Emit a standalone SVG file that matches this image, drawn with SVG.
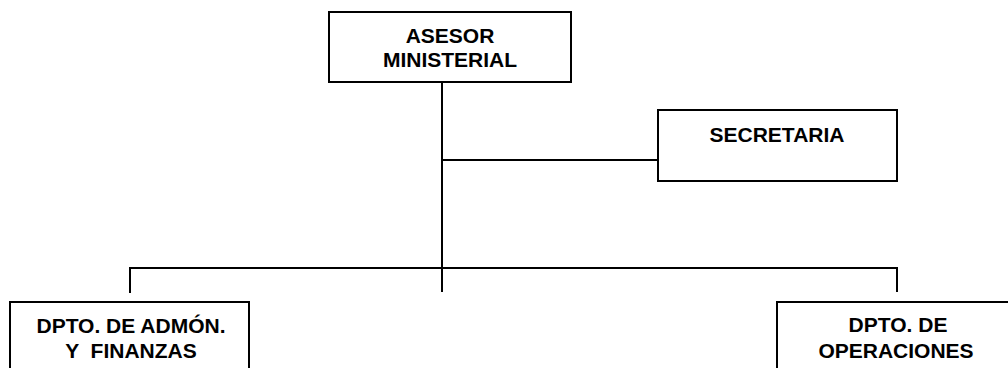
<svg xmlns="http://www.w3.org/2000/svg" width="1008" height="368" viewBox="0 0 1008 368">
  <style>
    .box { fill: #ffffff; stroke: #000000; stroke-width: 2; }
    .lbl { font-family: "Liberation Sans", Arial, sans-serif; font-weight: bold; font-size: 21px; fill: #000000; text-anchor: middle; }
    .wire { stroke: #000000; stroke-width: 2; fill: none; }
  </style>
  <rect width="1008" height="368" fill="#ffffff"/>

  <!-- connectors -->
  <g id="connectors">
    <line class="wire" x1="442" y1="82" x2="442" y2="292"/>
    <line class="wire" x1="442" y1="160" x2="658" y2="160"/>
    <line class="wire" x1="130" y1="268" x2="897" y2="268"/>
    <line class="wire" x1="130" y1="267" x2="130" y2="293"/>
    <line class="wire" x1="897" y1="267" x2="897" y2="292"/>
  </g>

  <g id="asesor">
    <rect class="box" x="329" y="12" width="242" height="70"/>
    <text class="lbl" x="450" y="43">ASESOR</text>
    <text class="lbl" x="450" y="67">MINISTERIAL</text>
  </g>

  <g id="secretaria">
    <rect class="box" x="658" y="110" width="239" height="71"/>
    <text class="lbl" x="777" y="142">SECRETARIA</text>
  </g>

  <g id="admon">
    <rect class="box" x="10" y="302" width="239" height="80"/>
    <text class="lbl" x="131" y="333" xml:space="preserve">DPTO. DE ADMÓN.</text>
    <text class="lbl" x="131" y="358" xml:space="preserve">Y  FINANZAS</text>
  </g>

  <g id="operaciones">
    <rect class="box" x="777" y="302" width="250" height="80"/>
    <text class="lbl" x="898" y="332">DPTO. DE</text>
    <text class="lbl" x="896" y="358">OPERACIONES</text>
  </g>
</svg>
